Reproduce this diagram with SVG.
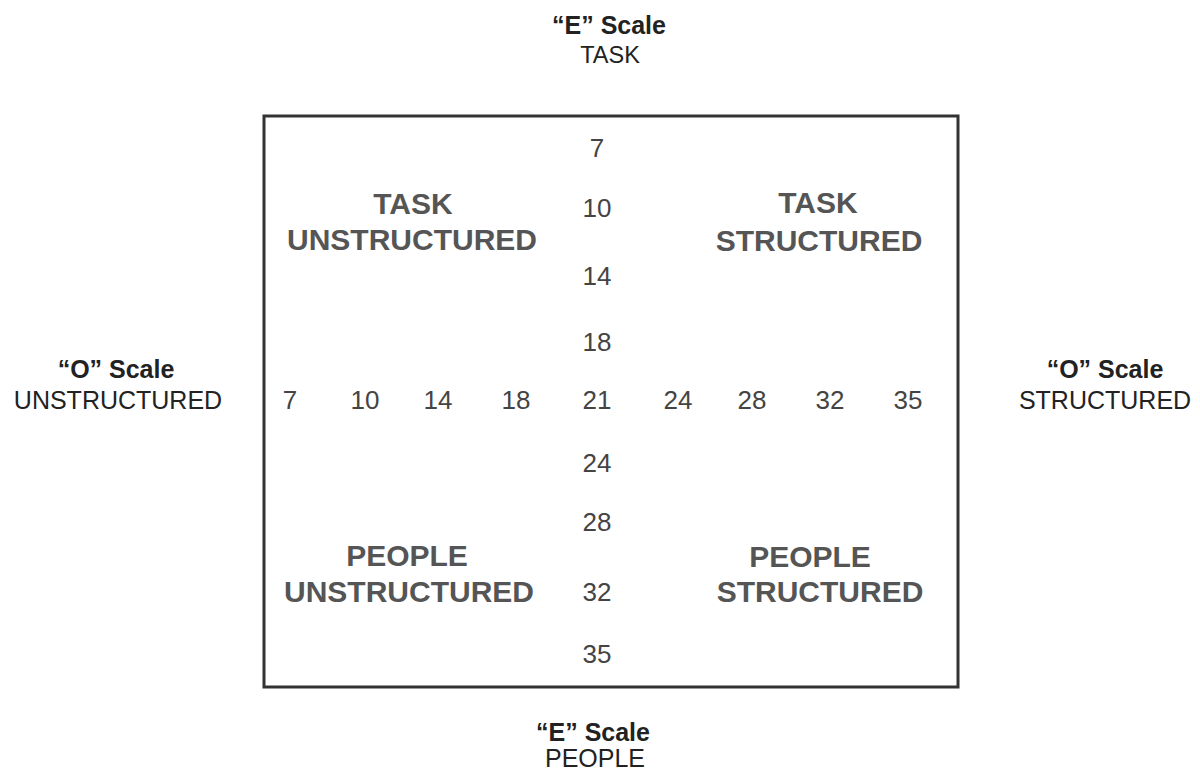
<svg xmlns="http://www.w3.org/2000/svg" width="1200" height="775" viewBox="0 0 1200 775">
<style>
.bg{fill:#fff}
.box{fill:none;stroke:#333;stroke-width:3}
.ttl{font-family:"Liberation Sans",Arial,sans-serif;font-weight:bold;font-size:25px;fill:#222;text-anchor:middle}
.sub{font-family:"Liberation Sans",Arial,sans-serif;font-size:25px;fill:#222;text-anchor:middle}
.q{font-family:"Liberation Sans",Arial,sans-serif;font-weight:bold;font-size:30px;fill:#555;text-anchor:middle}
.n{font-family:"Liberation Sans",Arial,sans-serif;font-size:26px;fill:#444;text-anchor:middle}
</style>
<rect class="bg" x="0" y="0" width="1200" height="775"/>
<g id="frame"><rect class="box" x="264" y="116" width="694" height="571"/></g>
<g id="top-label"><text class="ttl" x="609" y="34">“E” Scale</text><text class="sub" x="610" y="63" style="font-size:23.5px">TASK</text></g>
<g id="bottom-label"><text class="ttl" x="593" y="741">“E” Scale</text><text class="sub" x="595" y="767">PEOPLE</text></g>
<g id="left-label"><text class="ttl" x="116" y="378">“O” Scale</text><text class="sub" x="118" y="409">UNSTRUCTURED</text></g>
<g id="right-label"><text class="ttl" x="1105" y="378">“O” Scale</text><text class="sub" x="1105" y="409">STRUCTURED</text></g>
<g id="task-unstructured"><text class="q" x="413" y="214">TASK</text><text class="q" x="412" y="250">UNSTRUCTURED</text></g>
<g id="task-structured"><text class="q" x="818" y="213">TASK</text><text class="q" x="819" y="251">STRUCTURED</text></g>
<g id="people-unstructured"><text class="q" x="407" y="566">PEOPLE</text><text class="q" x="409" y="602">UNSTRUCTURED</text></g>
<g id="people-structured"><text class="q" x="810" y="567">PEOPLE</text><text class="q" x="820" y="602">STRUCTURED</text></g>
<g id="vertical-scale">
<text class="n" x="597" y="157">7</text>
<text class="n" x="597" y="217">10</text>
<text class="n" x="597" y="285">14</text>
<text class="n" x="597" y="351">18</text>
<text class="n" x="597" y="472">24</text>
<text class="n" x="597" y="531">28</text>
<text class="n" x="597" y="601">32</text>
<text class="n" x="597" y="663">35</text>
</g>
<g id="horizontal-scale">
<text class="n" x="290" y="409">7</text>
<text class="n" x="365" y="409">10</text>
<text class="n" x="438" y="409">14</text>
<text class="n" x="516" y="409">18</text>
<text class="n" x="597" y="409">21</text>
<text class="n" x="678" y="409">24</text>
<text class="n" x="752" y="409">28</text>
<text class="n" x="830" y="409">32</text>
<text class="n" x="908" y="409">35</text>
</g>
</svg>
